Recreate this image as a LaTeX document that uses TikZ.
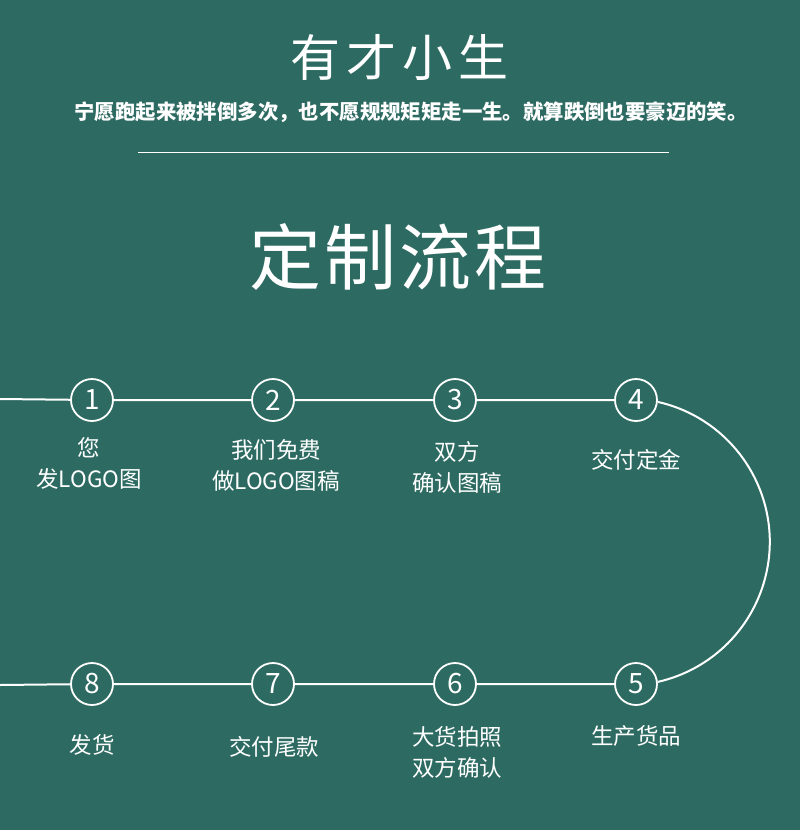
\documentclass[tikz,border=0pt]{standalone}
\usepackage{fontspec}
\setmainfont{Noto Sans CJK SC}
\usetikzlibrary{positioning}
\definecolor{bg}{HTML}{2D6B62}
\tikzset{
  num/.style={circle,draw=white,line width=1.8pt,minimum size=42pt,inner sep=0pt,text=white,font=\fontsize{28}{28}\selectfont},
  lbl/.style={text=white,align=center,font=\fontsize{22.5}{31}\selectfont},
  link/.style={draw=white,line width=2pt}}

\begin{document}
\begin{tikzpicture}[x=1pt,y=-1pt]
\fill[bg] (0,0) rectangle (800,830);
\useasboundingbox (0,0) rectangle (800,830);
% heading
\node[text=white,font=\fontsize{50}{50}\selectfont\addfontfeature{LetterSpace=12}] (name) at (399,57) {有才小生};
\node[text=white,font=\fontsize{20.4}{21}\selectfont\bfseries] (motto) at (411,112) {宁愿跑起来被拌倒多次，也不愿规规矩矩走一生。就算跌倒也要豪迈的笑。};
\coordinate (rl) at (138,152); \coordinate (rr) at (669,152);
\draw[white,line width=1pt] (rl) -- (rr);
\node[text=white,font=\fontsize{72}{72}\selectfont\addfontfeature{LetterSpace=4}] (title) at (398,257) {定制流程};
% steps
\node[num] (c1) at (92,400) {1};
\node[num] (c2) at (273,400) {2};
\node[num] (c3) at (455,400) {3};
\node[num] (c4) at (636,400) {4};
\node[num] (c5) at (636,684) {5};
\node[num] (c6) at (455,684) {6};
\node[num] (c7) at (273,684) {7};
\node[num] (c8) at (92,684) {8};
\coordinate (ta) at (0,399); \coordinate (ba) at (0,685);
\draw[link] (ta) -- (c1) -- (c2) -- (c3) -- (c4);
\draw[link] (ba) -- (c8) -- (c7) -- (c6) -- (c5);
\draw[link] (c4.-5) arc[start angle=-77.3,end angle=77.3,radius=143.5];
% labels
\node[lbl] (t1) at (89,463) {您\\发LOGO图};
\node[lbl] (t2) at (276,465) {我们免费\\做LOGO图稿};
\node[lbl] (t3) at (457,467) {双方\\确认图稿};
\node[lbl] (t4) at (636,460) {交付定金};
\node[lbl] (t5) at (636,736) {生产货品};
\node[lbl] (t6) at (457,752) {大货拍照\\双方确认};
\node[lbl] (t7) at (274,747) {交付尾款};
\node[lbl] (t8) at (92,745) {发货};
\end{tikzpicture}
\end{document}
